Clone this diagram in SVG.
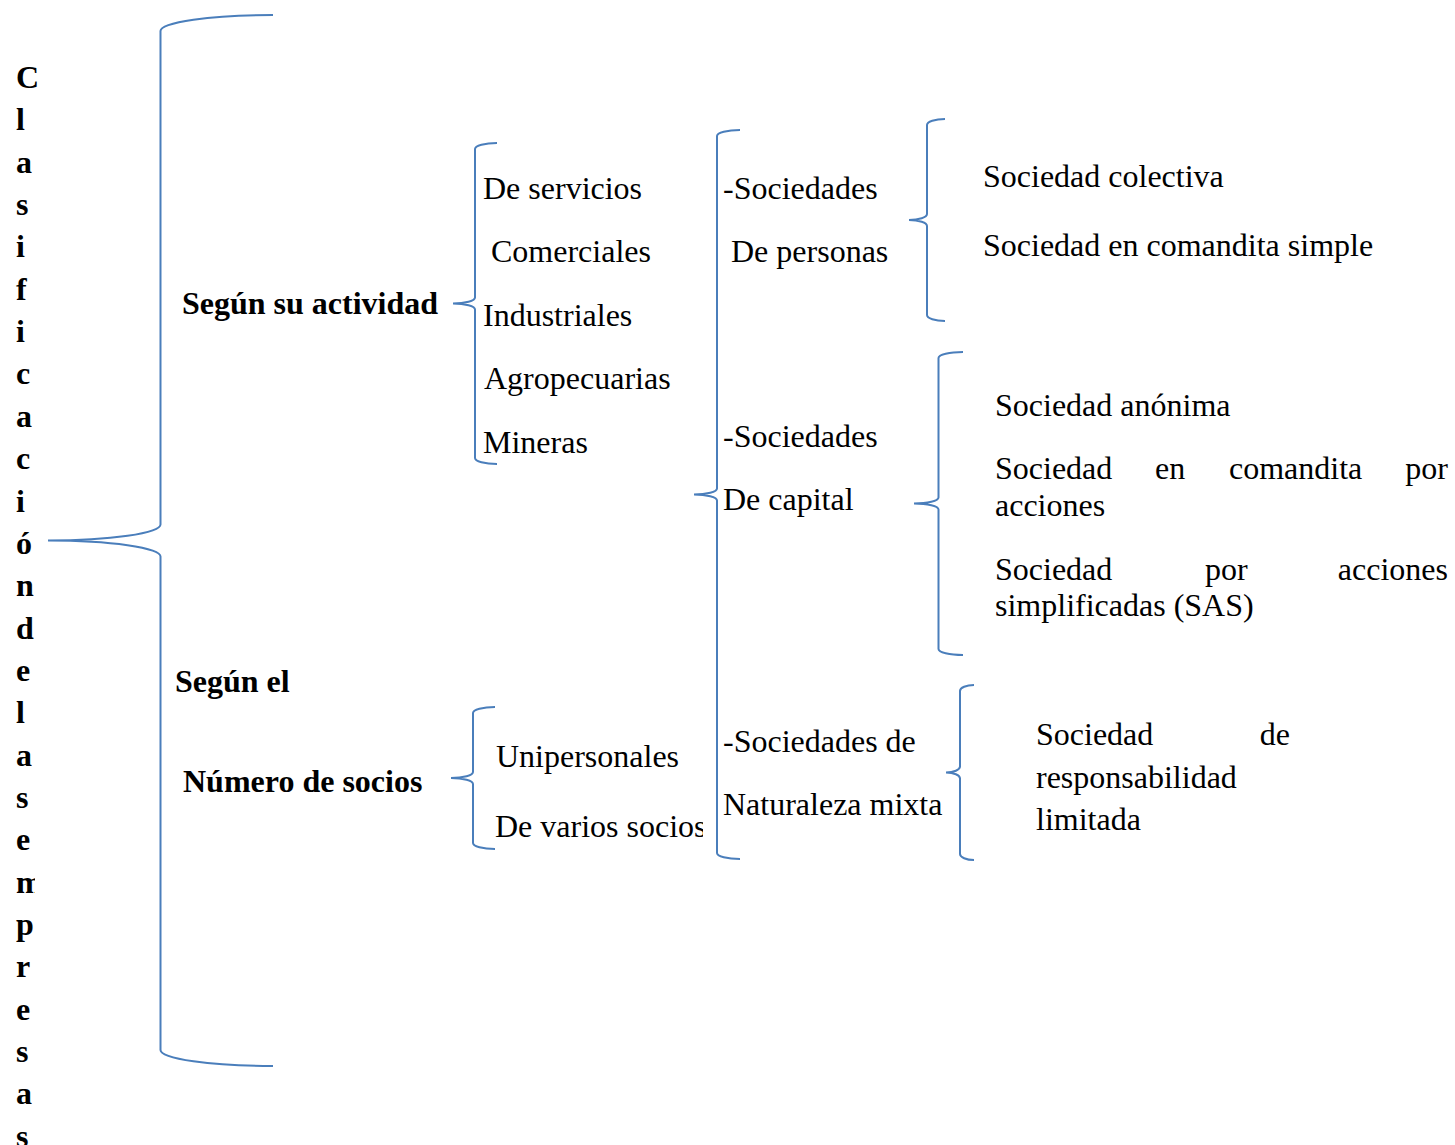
<svg xmlns="http://www.w3.org/2000/svg" width="1455" height="1145" viewBox="0 0 1455 1145">
  <style>
    .t { font-family: "Liberation Serif", "Times New Roman", serif; font-size: 32px; fill: #000; }
    .b { font-weight: bold; }
    .br { fill: none; stroke: #4A7EBB; stroke-width: 2; }
  </style>
  <defs>
    <clipPath id="clipVarios"><rect x="0" y="0" width="703" height="1145"/></clipPath>
    <clipPath id="clipM"><rect x="0" y="0" width="35" height="1145"/></clipPath>
  </defs>
  <rect width="1455" height="1145" fill="#fff"/>

  <!-- vertical title, one letter per line -->
  <g id="title" class="t b">
    <text x="16" y="88">C</text>
    <text x="16" y="130">l</text>
    <text x="16" y="173">a</text>
    <text x="16" y="215">s</text>
    <text x="16" y="257">i</text>
    <text x="16" y="300">f</text>
    <text x="16" y="342">i</text>
    <text x="16" y="384">c</text>
    <text x="16" y="427">a</text>
    <text x="16" y="469">c</text>
    <text x="16" y="512">i</text>
    <text x="16" y="554">ó</text>
    <text x="16" y="596">n</text>
    <text x="16" y="639">d</text>
    <text x="16" y="681">e</text>
    <text x="16" y="723">l</text>
    <text x="16" y="766">a</text>
    <text x="16" y="808">s</text>
    <text x="16" y="850">e</text>
    <text x="16" y="893" clip-path="url(#clipM)">m</text>
    <text x="16" y="935">p</text>
    <text x="16" y="977">r</text>
    <text x="16" y="1020">e</text>
    <text x="16" y="1062">s</text>
    <text x="16" y="1104">a</text>
    <text x="16" y="1147">s</text>
  </g>

  <!-- braces -->
  <g id="connectors" class="br">
    <!-- root brace -->
    <path d="M273,15 A112.5,16 0 0 0 160.5,31 L160.5,524.5 A112.5,16 0 0 1 48,540.5 A112.5,16 0 0 1 160.5,556.5 L160.5,1050 A112.5,16 0 0 0 273,1066"/>
    <!-- activity brace -->
    <path d="M497,143 A22,6 0 0 0 475,149 L475,297.5 A22,6 0 0 1 453,303.5 A22,6 0 0 1 475,309.5 L475,458 A22,6 0 0 0 497,464"/>
    <!-- partners brace -->
    <path d="M495,707 A22,6 0 0 0 473,713 L473,772 A22,6 0 0 1 451,778 A22,6 0 0 1 473,784 L473,843 A22,6 0 0 0 495,849"/>
    <!-- company types brace -->
    <path d="M740,130 A23,6 0 0 0 717,136 L717,488.5 A23,6 0 0 1 694,494.5 A23,6 0 0 1 717,500.5 L717,853 A23,6 0 0 0 740,859"/>
    <!-- persons brace -->
    <path d="M945,119 A18,6 0 0 0 927,125 L927,214 A18,6 0 0 1 909,220 A18,6 0 0 1 927,226 L927,315 A18,6 0 0 0 945,321"/>
    <!-- capital brace -->
    <path d="M963,352 A24.5,6 0 0 0 938.5,358 L938.5,497.5 A24.5,6 0 0 1 914,503.5 A24.5,6 0 0 1 938.5,509.5 L938.5,649 A24.5,6 0 0 0 963,655"/>
    <!-- mixed brace -->
    <path d="M974,685 A14,6 0 0 0 960,691 L960,766.5 A14,6 0 0 1 946,772.5 A14,6 0 0 1 960,778.5 L960,854 A14,6 0 0 0 974,860"/>
  </g>

  <g id="criteria-activity" class="t b"><text x="182" y="314">Según su actividad</text></g>
  <g id="criteria-partners" class="t b">
    <text x="175" y="692">Según el</text>
    <text x="183" y="792">Número de socios</text>
  </g>

  <g id="activity-list" class="t">
    <text x="483" y="199">De servicios</text>
    <text x="491" y="262">Comerciales</text>
    <text x="483" y="326">Industriales</text>
    <text x="484" y="389">Agropecuarias</text>
    <text x="483" y="453">Mineras</text>
  </g>

  <g id="partners-list" class="t">
    <text x="496" y="767">Unipersonales</text>
    <text x="495" y="837" clip-path="url(#clipVarios)">De varios socios</text>
  </g>

  <g id="type-persons" class="t">
    <text x="723" y="199">-Sociedades</text>
    <text x="731" y="262">De personas</text>
  </g>
  <g id="type-capital" class="t">
    <text x="723" y="447">-Sociedades</text>
    <text x="723" y="510">De capital</text>
  </g>
  <g id="type-mixed" class="t">
    <text x="723" y="752">-Sociedades de</text>
    <text x="723" y="815">Naturaleza mixta</text>
  </g>

  <g id="persons-list" class="t">
    <text x="983" y="187">Sociedad colectiva</text>
    <text x="983" y="256">Sociedad en comandita simple</text>
  </g>

  <g id="capital-list" class="t">
    <text x="995" y="416">Sociedad anónima</text>
    <text x="995" y="479">Sociedad</text>
    <text x="1155" y="479">en</text>
    <text x="1229" y="479">comandita</text>
    <text x="1448" y="479" text-anchor="end">por</text>
    <text x="995" y="516">acciones</text>
    <text x="995" y="580">Sociedad</text>
    <text x="1205" y="580">por</text>
    <text x="1448" y="580" text-anchor="end">acciones</text>
    <text x="995" y="616">simplificadas (SAS)</text>
  </g>

  <g id="mixed-list" class="t">
    <text x="1036" y="745">Sociedad</text>
    <text x="1290" y="745" text-anchor="end">de</text>
    <text x="1036" y="788">responsabilidad</text>
    <text x="1036" y="830">limitada</text>
  </g>
</svg>
